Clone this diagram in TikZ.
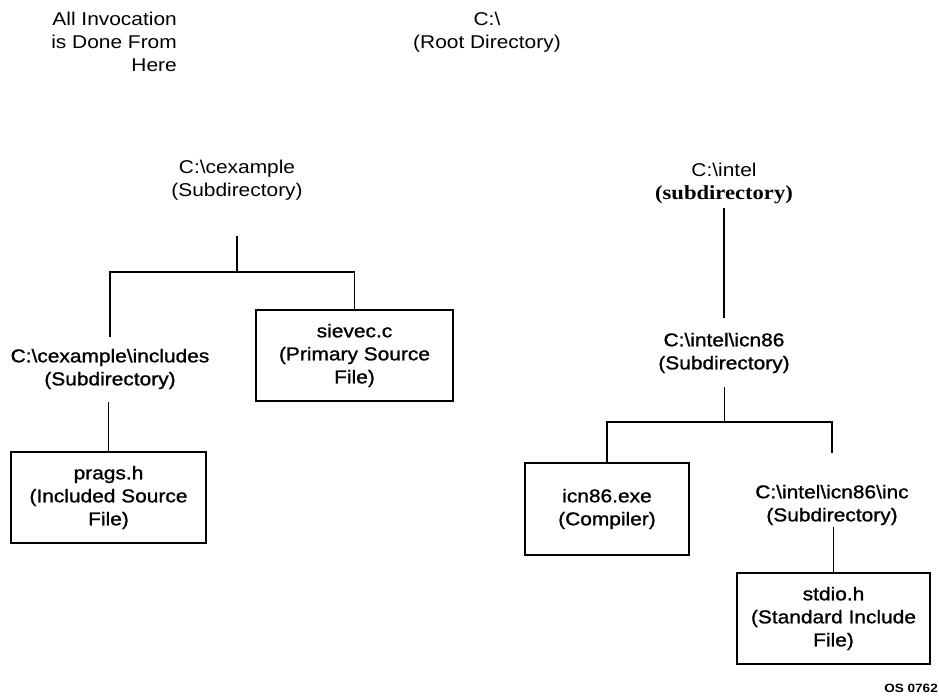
\documentclass[tikz,border=0pt]{standalone}
\usepackage{fontspec}
\setmainfont[FakeStretch=1.13]{Liberation Sans}
\newfontfamily\scanfont[FakeStretch=1.13,FakeBold=1.2]{Liberation Sans}
\newfontfamily\serifface[FakeStretch=1.13]{Liberation Serif}
\begin{document}
\begin{tikzpicture}[x=1pt,y=-1pt,
  lbl/.style={font=\fontsize{18.5}{23}\selectfont, align=center, inner sep=0pt},
  scan/.style={font=\scanfont\fontsize{18.5}{23}\selectfont, align=center, inner sep=0pt},
  filebox/.style={scan, draw, line width=2pt},
  conn/.style={line width=1.5pt},
  thinconn/.style={line width=1pt}]
\fill[white] (0,0) rectangle (939,700);
\useasboundingbox (0,0) rectangle (939,700);

% headings
\node[lbl, align=right, anchor=east] (inv) at (177,42) {All Invocation\\is Done From\\Here};
\node[lbl] (root) at (487,32) {C:\textbackslash\\(Root Directory)};

% directories
\node[lbl] (cex) at (237,180) {C:\textbackslash cexample\\(Subdirectory)};
\node[lbl] (intel) at (724,183) {C:\textbackslash intel\\{\serifface\bfseries\fontsize{20}{23}\selectfont (subdirectory)}};
\node[scan] (inc1) at (110,369) {C:\textbackslash cexample\textbackslash includes\\(Subdirectory)};
\node[scan] (icn86) at (724,353) {C:\textbackslash intel\textbackslash icn86\\(Subdirectory)};
\node[scan] (incdir) at (832,505) {C:\textbackslash intel\textbackslash icn86\textbackslash inc\\(Subdirectory)};

% files
\node[filebox, minimum width=197, minimum height=91] (sieve) at (354.5,355.5) {sievec.c\\(Primary Source\\File)};
\node[filebox, minimum width=195, minimum height=91] (prags) at (108.5,497.5) {prags.h\\(Included Source\\File)};
\node[filebox, minimum width=164, minimum height=92] (icnexe) at (607,509) {icn86.exe\\(Compiler)};
\node[filebox, minimum width=193, minimum height=91] (stdio) at (833.5,618.5) {stdio.h\\(Standard Include\\File)};

\node[font=\bfseries\fontsize{12}{14}\selectfont, anchor=east, inner sep=0pt] (fig) at (938,688) {OS 0762};

% tree connectors
\coordinate (j1) at (235,272);
\coordinate (j2) at (722,422);
\draw[conn, shorten <=36pt] (cex.south) -- (cex.south |- j1);
\draw[conn, shorten <=12pt] (inc1.north) |- (j1) -| (sieve.north);
\draw[conn, shorten <=13pt] (inc1.south -| prags.north) -- (prags.north);
\draw[conn, shorten <=4pt, shorten >=15pt] (intel.south) -- (icn86.north);
\draw[thinconn, shorten <=14pt] (icn86.south) -- (icn86.south |- j2);
\draw[conn, shorten >=32pt] (icnexe.north) |- (j2) -| (incdir.north);
\draw[conn, shorten <=2pt] (incdir.south -| stdio.north) -- (stdio.north);
\end{tikzpicture}
\end{document}
